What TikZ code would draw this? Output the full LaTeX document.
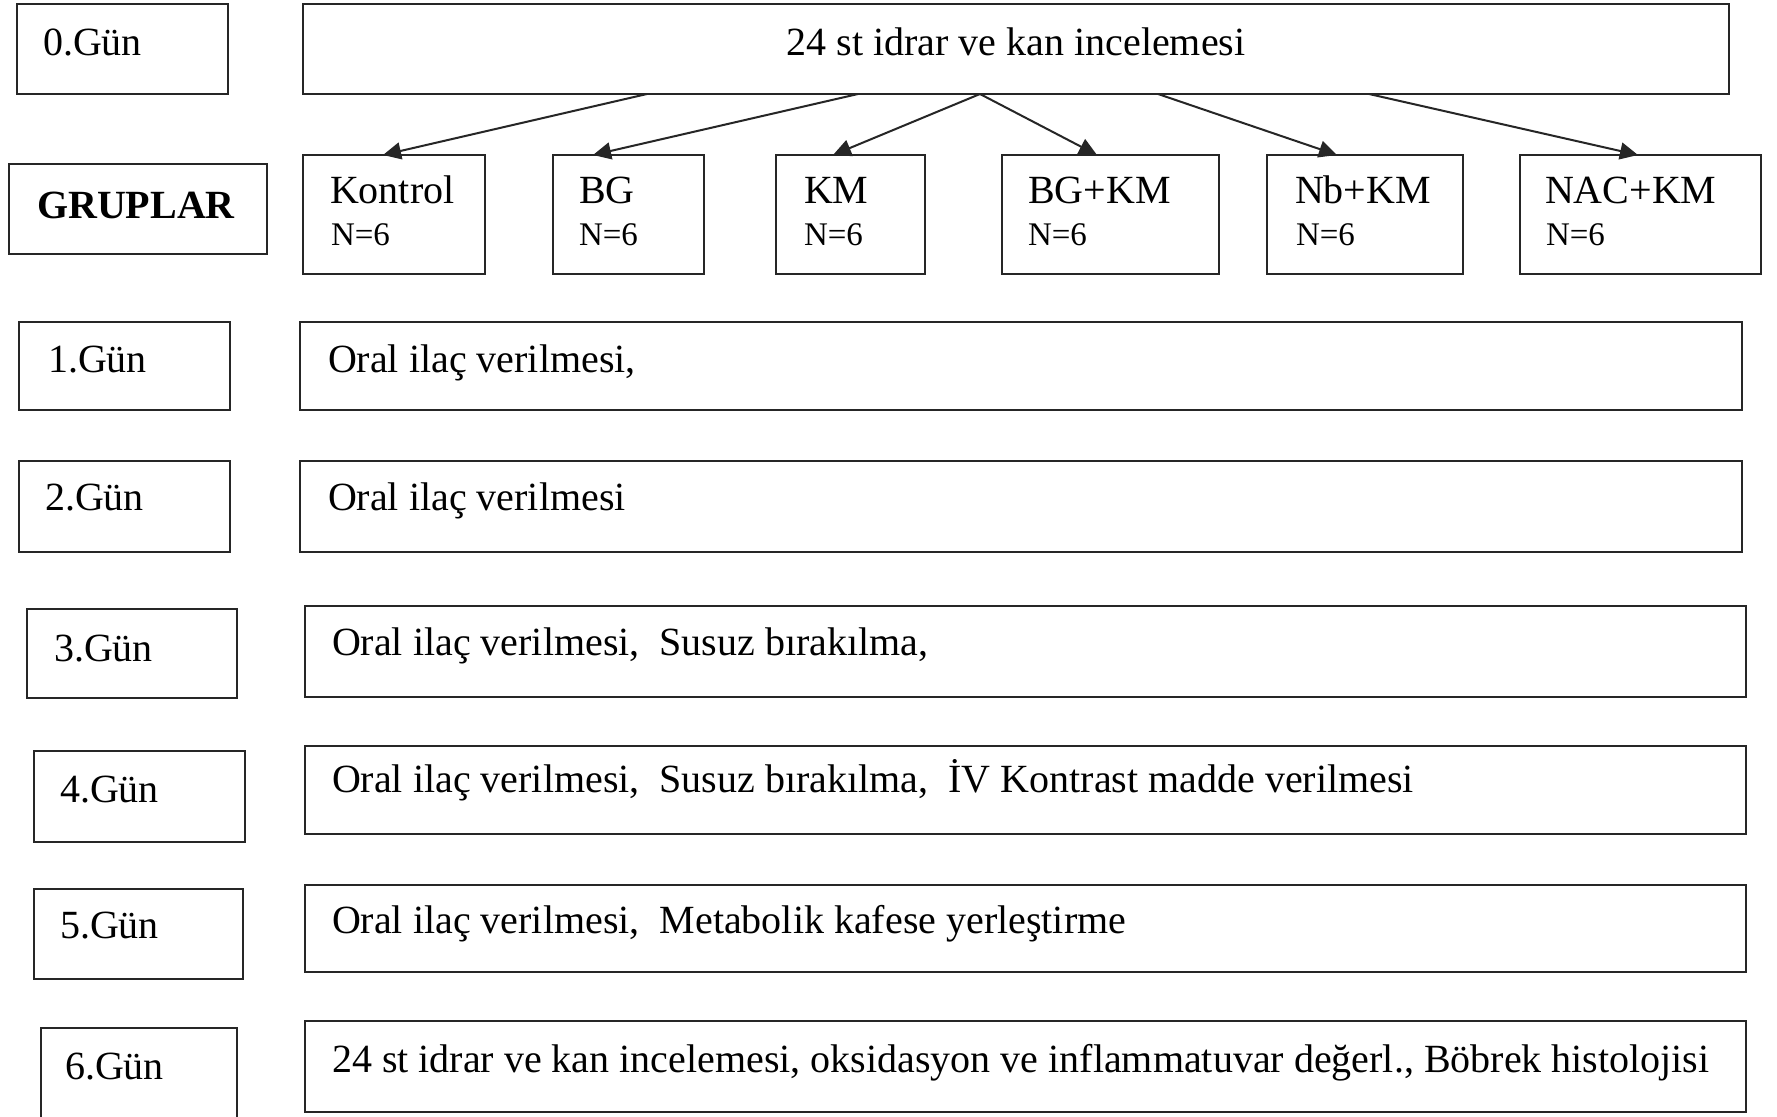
\documentclass[tikz,border=0pt]{standalone}
\usepackage{fontspec}
\setmainfont{Liberation Serif}
\usetikzlibrary{arrows.meta}
\tikzset{
  box/.style={draw=black!85,line width=2pt,inner sep=0pt,outer sep=0pt,fill=none},
  lbl/.style={inner sep=0pt,outer sep=0pt,font=\fontsize{40}{48}\selectfont,anchor=base west},
  small/.style={inner sep=0pt,outer sep=0pt,font=\fontsize{33}{40}\selectfont,anchor=base west},
  arr/.style={line width=2pt,draw=black!85,-{Triangle[length=18pt,width=17pt]}}
}
\newcommand\mybx[5]{\node[box,minimum width={(#4-#2)*1pt},minimum height={(#5-#3)*1pt}] (#1) at ({(#2+#4)/2},{(#3+#5)/2}) {};}
\begin{document}
\begin{tikzpicture}[x=1pt,y=-1pt]
\clip (0,0) rectangle (1777,1116);
\fill[white] (0,0) rectangle (1777,1116);
% row 0
\mybx{d0}{17}{4}{228}{94}
\mybx{top}{303}{4}{1729}{94}
\node[lbl] (d0t) at (43,56) {0.Gün};
\node[lbl,anchor=base] (topt) at (1016,56) {24 st idrar ve kan incelemesi};
% groups
\mybx{gr}{9}{164}{267}{254}
\node[lbl] (grt) at (37,218) {\bfseries GRUPLAR};
\mybx{g1}{303}{155}{485}{274}
\mybx{g2}{553}{155}{704}{274}
\mybx{g3}{776}{155}{925}{274}
\mybx{g4}{1002}{155}{1219}{274}
\mybx{g5}{1267}{155}{1463}{274}
\mybx{g6}{1520}{155}{1761}{274}
\node[lbl] (g1a) at (330,203) {Kontrol};
\node[small] (g1b) at (331,245) {N=6};
\node[lbl] (g2a) at (579,203) {BG};
\node[small] (g2b) at (579,245) {N=6};
\node[lbl] (g3a) at (804,203) {KM};
\node[small] (g3b) at (804,245) {N=6};
\node[lbl] (g4a) at (1028,203) {BG+KM};
\node[small] (g4b) at (1028,245) {N=6};
\node[lbl] (g5a) at (1295,203) {Nb+KM};
\node[small] (g5b) at (1296,245) {N=6};
\node[lbl] (g6a) at (1545,203) {NAC+KM};
\node[small] (g6b) at (1546,245) {N=6};
% arrows
\draw[arr] ([xshift=-369pt]top.south) -- ([xshift=-11pt]g1.north);
\draw[arr] ([xshift=-158pt]top.south) -- ([xshift=-35.5pt]g2.north);
\draw[arr] ([xshift=-36pt]top.south) -- ([xshift=-17.5pt]g3.north);
\draw[arr] ([xshift=-36pt]top.south) -- ([xshift=-13.5pt]g4.north);
\draw[arr] ([xshift=142pt]top.south) -- ([xshift=-28pt]g5.north);
\draw[arr] ([xshift=353pt]top.south) -- ([xshift=-2.5pt]g6.north);
% days
\mybx{d1}{19}{322}{230}{410}
\mybx{c1}{300}{322}{1742}{410}
\node[lbl] (d1t) at (48,372) {1.Gün};
\node[lbl] (c1t) at (328,372) {Oral ilaç verilmesi,};
\mybx{d2}{19}{461}{230}{552}
\mybx{c2}{300}{461}{1742}{552}
\node[lbl] (d2t) at (45,510) {2.Gün};
\node[lbl] (c2t) at (328,510) {Oral ilaç verilmesi};
\mybx{d3}{27}{609}{237}{698}
\mybx{c3}{305}{606}{1746}{697}
\node[lbl] (d3t) at (54,661) {3.Gün};
\node[lbl] (c3t) at (332,655) {Oral ilaç verilmesi,\ \ Susuz bırakılma,};
\mybx{d4}{34}{751}{245}{842}
\mybx{c4}{305}{746}{1746}{834}
\node[lbl] (d4t) at (60,802) {4.Gün};
\node[lbl] (c4t) at (332,792) {Oral ilaç verilmesi,\ \ Susuz bırakılma,\ \ İV Kontrast madde verilmesi};
\mybx{d5}{34}{889}{243}{979}
\mybx{c5}{305}{885}{1746}{972}
\node[lbl] (d5t) at (60,938) {5.Gün};
\node[lbl] (c5t) at (332,933) {Oral ilaç verilmesi,\ \ Metabolik kafese yerleştirme};
\mybx{d6}{41}{1028}{237}{1140}
\mybx{c6}{305}{1021}{1746}{1112}
\node[lbl] (d6t) at (65,1079) {6.Gün};
\node[lbl] (c6t) at (332,1072) {24 st idrar ve kan incelemesi, oksidasyon ve inflammatuvar değerl., Böbrek histolojisi};
\end{tikzpicture}
\end{document}
